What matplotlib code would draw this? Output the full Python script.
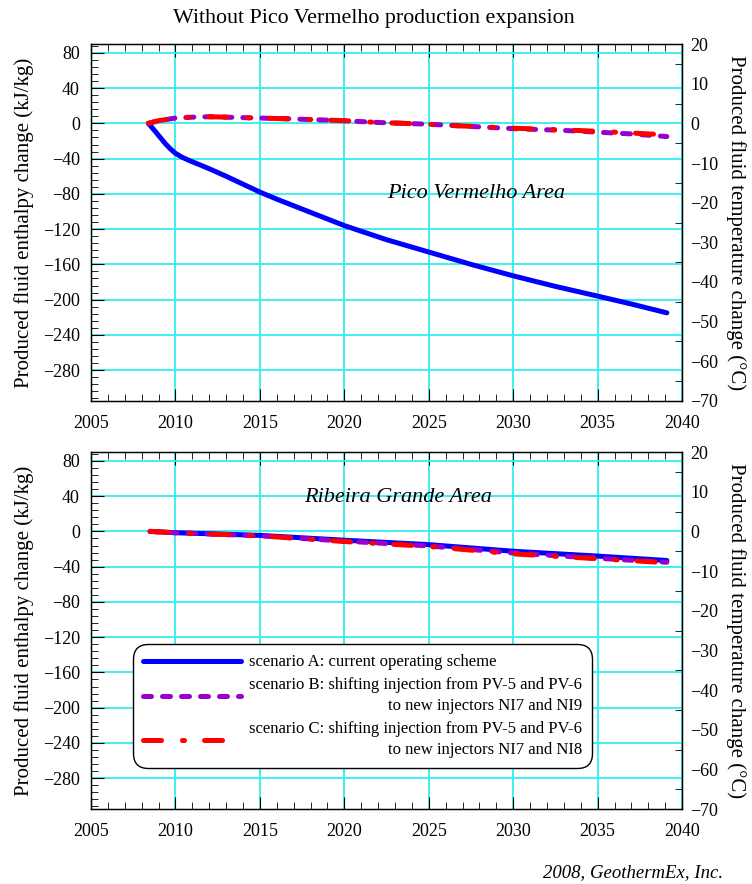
import numpy as np
import matplotlib.pyplot as plt
from matplotlib.ticker import MultipleLocator

plt.rcParams['font.family'] = ['Liberation Serif', 'DejaVu Serif']

# Pico Vermelho area (top panel)
pv_years_a = [2008.4, 2008.8, 2009.1, 2009.4, 2009.7, 2010, 2010.4, 2010.8, 2011.5, 2012, 2013, 2014, 2015, 2016,
              2018, 2020, 2022.5, 2025, 2027.5, 2030, 2032.5, 2035, 2037, 2039.1]
pv_a = [0, -9, -16, -23, -29, -34, -38.5, -42, -47.5, -51.5, -60, -69, -78, -86,
        -101, -116, -132, -146, -160, -173, -185, -196, -205, -215]
pv_years_bc = [2008.4, 2009, 2010, 2011, 2012, 2013, 2015, 2017, 2020, 2022, 2025, 2027, 2030, 2033, 2035, 2037, 2039.1]
pv_b = [0, 3, 6, 7, 7.5, 7, 6, 5, 3, 1, -1, -3, -6, -8, -10, -12, -15]
pv_c = [0, 3, 6, 7, 7.5, 7, 6, 5, 3, 1, -1, -3, -5.5, -7.5, -9, -11, -13]

# Ribeira Grande area (bottom panel)
rg_years = [2008.5, 2010, 2015, 2020, 2025, 2030, 2035, 2039.1]
rg_a = [0, -1.5, -4.5, -10, -15, -22.5, -28, -33]
rg_b = [0, -1.5, -5, -11, -16.5, -24.5, -30.5, -35]
rg_c = [0, -1.5, -5, -11.5, -17, -25.5, -31, -35.5]

labels = ['scenario A: current operating scheme',
          'scenario B: shifting injection from PV-5 and PV-6\nto new injectors NI7 and NI9',
          'scenario C: shifting injection from PV-5 and PV-6\nto new injectors NI7 and NI8']

BLUE = '#0000ff'
PURPLE = '#9900cc'
RED = '#ff0000'
GRID = '#33eeee'
LW = 3.6

fig = plt.figure(figsize=(7.52, 8.84), dpi=100)
ax_top = fig.add_axes([0.121, 0.5464, 0.786, 0.4038])
ax_bot = fig.add_axes([0.121, 0.0848, 0.786, 0.4038])


def style_axes(ax):
    ax.set_xlim(2005, 2040)
    ax.set_ylim(-315, 90)
    ax.xaxis.set_major_locator(MultipleLocator(5))
    ax.xaxis.set_minor_locator(MultipleLocator(1))
    ax.yaxis.set_minor_locator(MultipleLocator(8))
    ax.set_yticks(np.arange(-280, 81, 40))
    ax.grid(True, which='major', color=GRID, lw=1.3)
    ax.tick_params(which='both', direction='in', top=True, labelsize=13, colors='black')
    ax.tick_params(axis='x', which='major', length=9, pad=10)
    ax.tick_params(axis='x', which='minor', length=5)
    ax.tick_params(axis='y', which='major', length=9, pad=8)
    ax.tick_params(axis='y', which='minor', length=5)
    ax.set_ylabel('Produced fluid enthalpy change (kJ/kg)', fontsize=15, labelpad=6)
    for s in ax.spines.values():
        s.set_linewidth(1.0)
    ax.set_axisbelow(True)

    twin = ax.twinx()
    twin.set_ylim(-70, 20)
    twin.set_yticks(np.arange(-70, 21, 10))
    twin.yaxis.set_minor_locator(MultipleLocator(5))
    twin.tick_params(which='major', length=0, labelsize=13, pad=6)
    twin.tick_params(which='minor', direction='in', length=5)
    twin.set_ylabel('Produced fluid temperature change (°C)', fontsize=15,
                    rotation=270, labelpad=20)
    return twin


def draw_lines(ax, years_a, a, years_bc, b, c):
    la, = ax.plot(years_a, a, color=BLUE, lw=LW, solid_capstyle='round',
                  solid_joinstyle='round', zorder=3)
    lb, = ax.plot(years_bc, b, color=PURPLE, lw=LW, dashes=(1.6, 2.2),
                  dash_capstyle='round', zorder=4)
    lc, = ax.plot(years_bc, c, color=RED, lw=LW, dashes=(3.6, 4.2, 0.4, 4.0),
                  dash_capstyle='round', zorder=5)
    return la, lb, lc


style_axes(ax_top)
draw_lines(ax_top, pv_years_a, pv_a, pv_years_bc, pv_b, pv_c)
ax_top.text(2027.8, -80, 'Pico Vermelho Area', fontsize=16, style='italic',
            ha='center', va='center')

style_axes(ax_bot)
handles = draw_lines(ax_bot, rg_years, rg_a, rg_years, rg_b, rg_c)
ax_bot.text(2023.2, 39, 'Ribeira Grande Area', fontsize=16, style='italic',
            ha='center', va='center')

leg = ax_bot.legend(handles, labels, loc='lower left', bbox_to_anchor=(0.0711, 0.115),
                    borderaxespad=0, fontsize=12, handlelength=5.9, handletextpad=0.48,
                    labelspacing=0.42, borderpad=0.6, fancybox=True,
                    framealpha=1, edgecolor='black')
leg.get_frame().set_linewidth(1.0)
leg.get_frame().set_boxstyle('round', pad=0.0, rounding_size=0.9)
for t in leg.get_texts():
    t.set_multialignment('right')
    t.set_linespacing(1.4)

fig.text(0.497, 0.979, 'Without Pico Vermelho production expansion', fontsize=15.8,
         ha='center', va='center')
fig.text(0.962, 0.013, '2008, GeothermEx, Inc.', fontsize=13.5, style='italic',
         ha='right', va='center')

fig.savefig('out.png', dpi=100)
